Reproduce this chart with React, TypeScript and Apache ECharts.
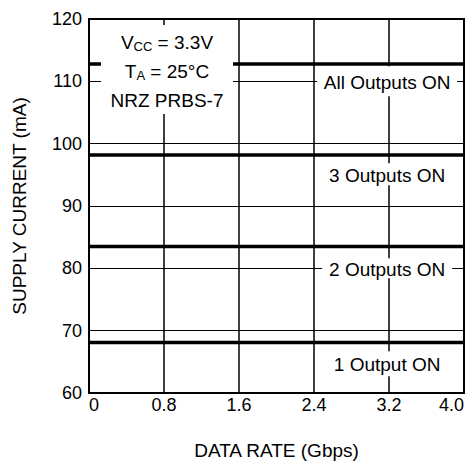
import React, { useEffect, useRef } from "react";
import * as echarts from "echarts";

const dataRate = [0, 4.0];
const allOutputsOn = [112.8, 112.8];
const threeOutputsOn = [98.2, 98.2];
const twoOutputsOn = [83.5, 83.5];
const oneOutputOn = [68.1, 68.1];
const seriesNames = ["All Outputs ON", "3 Outputs ON", "2 Outputs ON", "1 Output ON"];
const labelY = [110, 95.1, 80, 64.7];
const xTickLabels = ["0", "0.8", "1.6", "2.4", "3.2", "4.0"];
const conditionLines = ["{a|V}{s|CC}{a| = 3.3V}", "{a|T}{s|A}{a| = 25°C}", "{a|NRZ PRBS-7}"];

const FONT = "'Liberation Sans', Arial, Helvetica, sans-serif";

export default function App() {
  const ref = useRef<HTMLDivElement>(null);
  useEffect(() => {
    if (!ref.current) return;
    const chart = echarts.init(ref.current, null, { renderer: "svg" });
    const levels = [allOutputsOn, threeOutputsOn, twoOutputsOn, oneOutputOn];
    const boxSizes = [
      [140, 30],
      [130, 22],
      [130, 20],
      [130, 25],
    ];
    const lineSeries = levels.map((vals, i) => ({
      type: "line",
      name: seriesNames[i],
      data: dataRate.map((x, j) => [x, vals[j]]),
      showSymbol: false,
      symbol: "none",
      lineStyle: { color: "#000", width: 3.5 },
      z: 3,
      silent: true,
    }));
    const labelItems = seriesNames.map((n, i) => [3.18, labelY[i], i]);
    labelItems.push([0.832, 111.9, 4]);
    const option: any = {
      animation: false,
      backgroundColor: "#fff",
      textStyle: { fontFamily: FONT },
      grid: {
        left: 89,
        right: 10,
        top: 19,
        bottom: 73,
        show: true,
        borderColor: "#000",
        borderWidth: 2,
        backgroundColor: "transparent",
      },
      xAxis: {
        type: "value",
        min: 0,
        max: 4.0,
        interval: 0.8,
        name: "DATA RATE (Gbps)",
        nameLocation: "middle",
        nameGap: 48,
        nameTextStyle: { fontSize: 19, color: "#000", fontFamily: FONT },
        axisLine: { show: true, lineStyle: { color: "#000", width: 2 } },
        axisTick: { show: false },
        splitLine: { show: true, lineStyle: { color: "#000", width: 1.5 } },
        axisLabel: {
          fontSize: 18,
          color: "#000",
          fontFamily: FONT,
          margin: 3,
          alignMinLabel: "left",
          alignMaxLabel: "right",
          formatter: (v: number) => {
            const idx = Math.round(v / 0.8);
            return xTickLabels[idx] ?? String(v);
          },
        },
      },
      yAxis: {
        type: "value",
        min: 60,
        max: 120,
        interval: 10,
        name: "SUPPLY CURRENT (mA)",
        nameLocation: "middle",
        nameGap: 60,
        nameTextStyle: { fontSize: 19, color: "#000", fontFamily: FONT },
        axisLine: { show: true, lineStyle: { color: "#000", width: 2 } },
        axisTick: { show: false },
        splitLine: { show: true, lineStyle: { color: "#000", width: 1.2 } },
        axisLabel: { fontSize: 18, color: "#000", fontFamily: FONT, margin: 7 },
      },
      series: [
        ...lineSeries,
        {
          type: "custom",
          z: 10,
          silent: true,
          data: labelItems,
          renderItem: (params: any, api: any) => {
            const idx = api.value(2);
            const c = api.coord([api.value(0), api.value(1)]);
            if (idx === 4) {
              const w = 132;
              const h = 89;
              return {
                type: "group",
                children: [
                  {
                    type: "rect",
                    shape: { x: c[0] - w / 2, y: c[1] - h / 2, width: w, height: h },
                    style: { fill: "#fff" },
                  },
                  {
                    type: "text",
                    style: {
                      x: c[0],
                      y: c[1] + 2,
                      text: conditionLines.join("\n"),
                      align: "center",
                      verticalAlign: "middle",
                      fill: "#000",
                      rich: {
                        a: { fontSize: 19, lineHeight: 29, fill: "#000", fontFamily: FONT, verticalAlign: "middle" },
                        s: { fontSize: 13, lineHeight: 29, fill: "#000", fontFamily: FONT, padding: [9, 0, 0, 0], verticalAlign: "middle" },
                      },
                    },
                  },
                ],
              };
            }
            const [w, h] = boxSizes[idx];
            return {
              type: "group",
              children: [
                {
                  type: "rect",
                  shape: { x: c[0] - w / 2, y: c[1] - h / 2, width: w, height: h },
                  style: { fill: "#fff" },
                },
                {
                  type: "text",
                  style: {
                    x: c[0],
                    y: c[1] + 1,
                    text: seriesNames[idx],
                    align: "center",
                    verticalAlign: "middle",
                    fill: "#000",
                    fontSize: 19,
                    fontFamily: FONT,
                  },
                },
              ],
            };
          },
        },
      ],
    };
    chart.setOption(option);
    return () => chart.dispose();
  }, []);
  return (
    <div
      ref={ref}
      style={{ position: "absolute", left: 0, top: 0, width: 474, height: 466 }}
    />
  );
}
